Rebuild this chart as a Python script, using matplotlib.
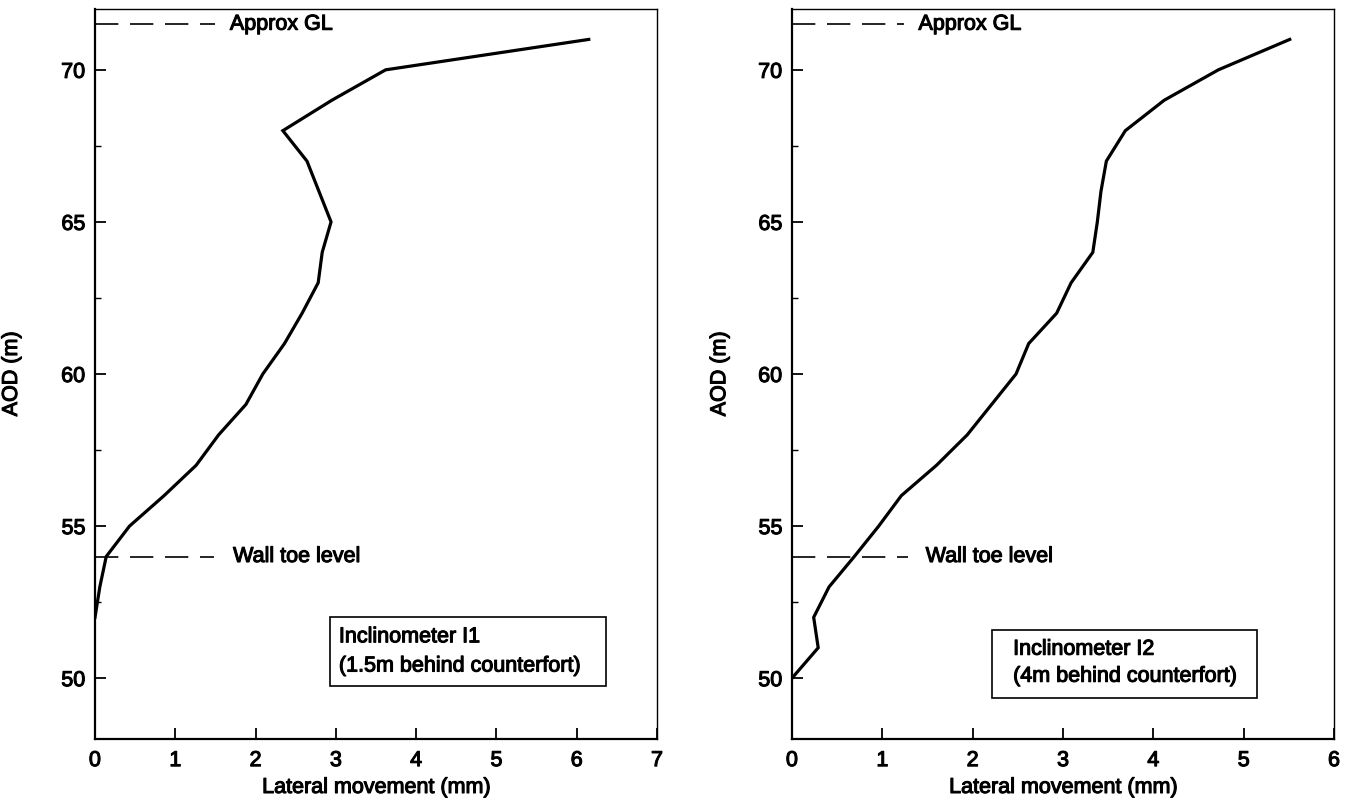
import numpy as np
import matplotlib.pyplot as plt
import matplotlib.patheffects as pe
from matplotlib.patches import Rectangle

plt.rcParams["font.family"] = ["Liberation Sans", "DejaVu Sans"]

# Inclinometer I1 (1.5m behind counterfort)
aod_i1 = [52, 53, 54, 55, 56, 57, 58, 59, 60, 61, 62, 63, 64, 65, 66, 67, 68, 69, 70, 71]
move_i1 = [0.0, 0.06, 0.14, 0.43, 0.86, 1.26, 1.54, 1.88, 2.09, 2.36, 2.58, 2.78, 2.83,
           2.94, 2.79, 2.64, 2.34, 2.95, 3.62, 6.15]

# Inclinometer I2 (4m behind counterfort)
aod_i2 = [50, 51, 52, 53, 54, 55, 56, 57, 58, 59, 60, 61, 62, 63, 64, 65, 66, 67, 68, 69, 70, 71]
move_i2 = [0.0, 0.29, 0.24, 0.41, 0.69, 0.96, 1.21, 1.60, 1.94, 2.21, 2.48, 2.62, 2.93,
           3.09, 3.33, 3.38, 3.42, 3.48, 3.69, 4.12, 4.72, 5.51]

gl_level = 71.5
toe_level = 54.0

W, H = 1360, 804
fig = plt.figure(figsize=(W / 100, H / 100), dpi=100)

panels = [
    dict(rect=[95 / W, 64 / H, 562 / W, 730 / H], x=move_i1, y=aod_i1, xmax=7,
         gl_end=1.49, toe_end=1.48, gl_txt=1.68, toe_txt=1.72,
         box=(0.418, 0.073, 0.491, 0.094), txt_x=0.434, line_y=(0.140, 0.100),
         lines=("Inclinometer I1", "(1.5m behind counterfort)"), ylab_x=-0.130),
    dict(rect=[792 / W, 64 / H, 542 / W, 730 / H], x=move_i2, y=aod_i2, xmax=6,
         gl_end=1.24, toe_end=1.28, gl_txt=1.40, toe_txt=1.48,
         box=(0.369, 0.056, 0.489, 0.093), txt_x=0.408, line_y=(0.123, 0.086),
         lines=("Inclinometer I2", "(4m behind counterfort)"), ylab_x=-0.114),
]

fs = 15.5
bold = [pe.withStroke(linewidth=0.8, foreground="black")]

for p in panels:
    ax = fig.add_axes(p["rect"])
    ax.plot(p["x"], p["y"], color="black", lw=2.3, solid_joinstyle="miter")

    # reference levels
    ax.plot([0, p["gl_end"]], [gl_level, gl_level], color="black", lw=1.2, dashes=(14, 7))
    ax.plot([0, p["toe_end"]], [toe_level, toe_level], color="black", lw=1.2, dashes=(14, 7))
    ax.text(p["gl_txt"], gl_level, "Approx GL", fontsize=fs, va="center", ha="left",
            path_effects=bold)
    ax.text(p["toe_txt"], toe_level, "Wall toe level", fontsize=fs, va="center", ha="left",
            path_effects=bold)

    # legend-like box
    bx, by, bw, bh = p["box"]
    ax.add_patch(Rectangle((bx, by), bw, bh, transform=ax.transAxes, fill=False,
                           edgecolor="black", lw=1.2))
    for txt, ty in zip(p["lines"], p["line_y"]):
        ax.text(p["txt_x"], ty, txt, transform=ax.transAxes, fontsize=fs,
                va="center", ha="left", path_effects=bold)

    ax.set_xlim(0, p["xmax"])
    ax.set_ylim(48, 72)
    ax.set_xticks(np.arange(0, p["xmax"] + 1, 1))
    ax.set_yticks([50, 55, 60, 65, 70])
    ax.set_yticks([52.5, 57.5, 62.5, 67.5], minor=True)
    ax.tick_params(axis="both", which="major", direction="in", length=8, width=1.3,
                   labelsize=fs, pad=7)
    ax.tick_params(axis="y", which="minor", direction="in", length=4, width=1.0)
    ax.tick_params(axis="x", pad=8)
    for lab in ax.get_xticklabels() + ax.get_yticklabels():
        lab.set_path_effects(bold)

    for side in ["left", "bottom"]:
        ax.spines[side].set_linewidth(1.6)
    for side in ["top", "right"]:
        ax.spines[side].set_linewidth(1.0)

    ax.set_xlabel("Lateral movement (mm)", fontsize=fs, path_effects=bold)
    ax.set_ylabel("AOD (m)", fontsize=fs, path_effects=bold)
    ax.xaxis.set_label_coords(0.5, -0.052)
    ax.yaxis.set_label_coords(p["ylab_x"], 0.5)

fig.savefig("out.png", dpi=100)
plt.close(fig)
